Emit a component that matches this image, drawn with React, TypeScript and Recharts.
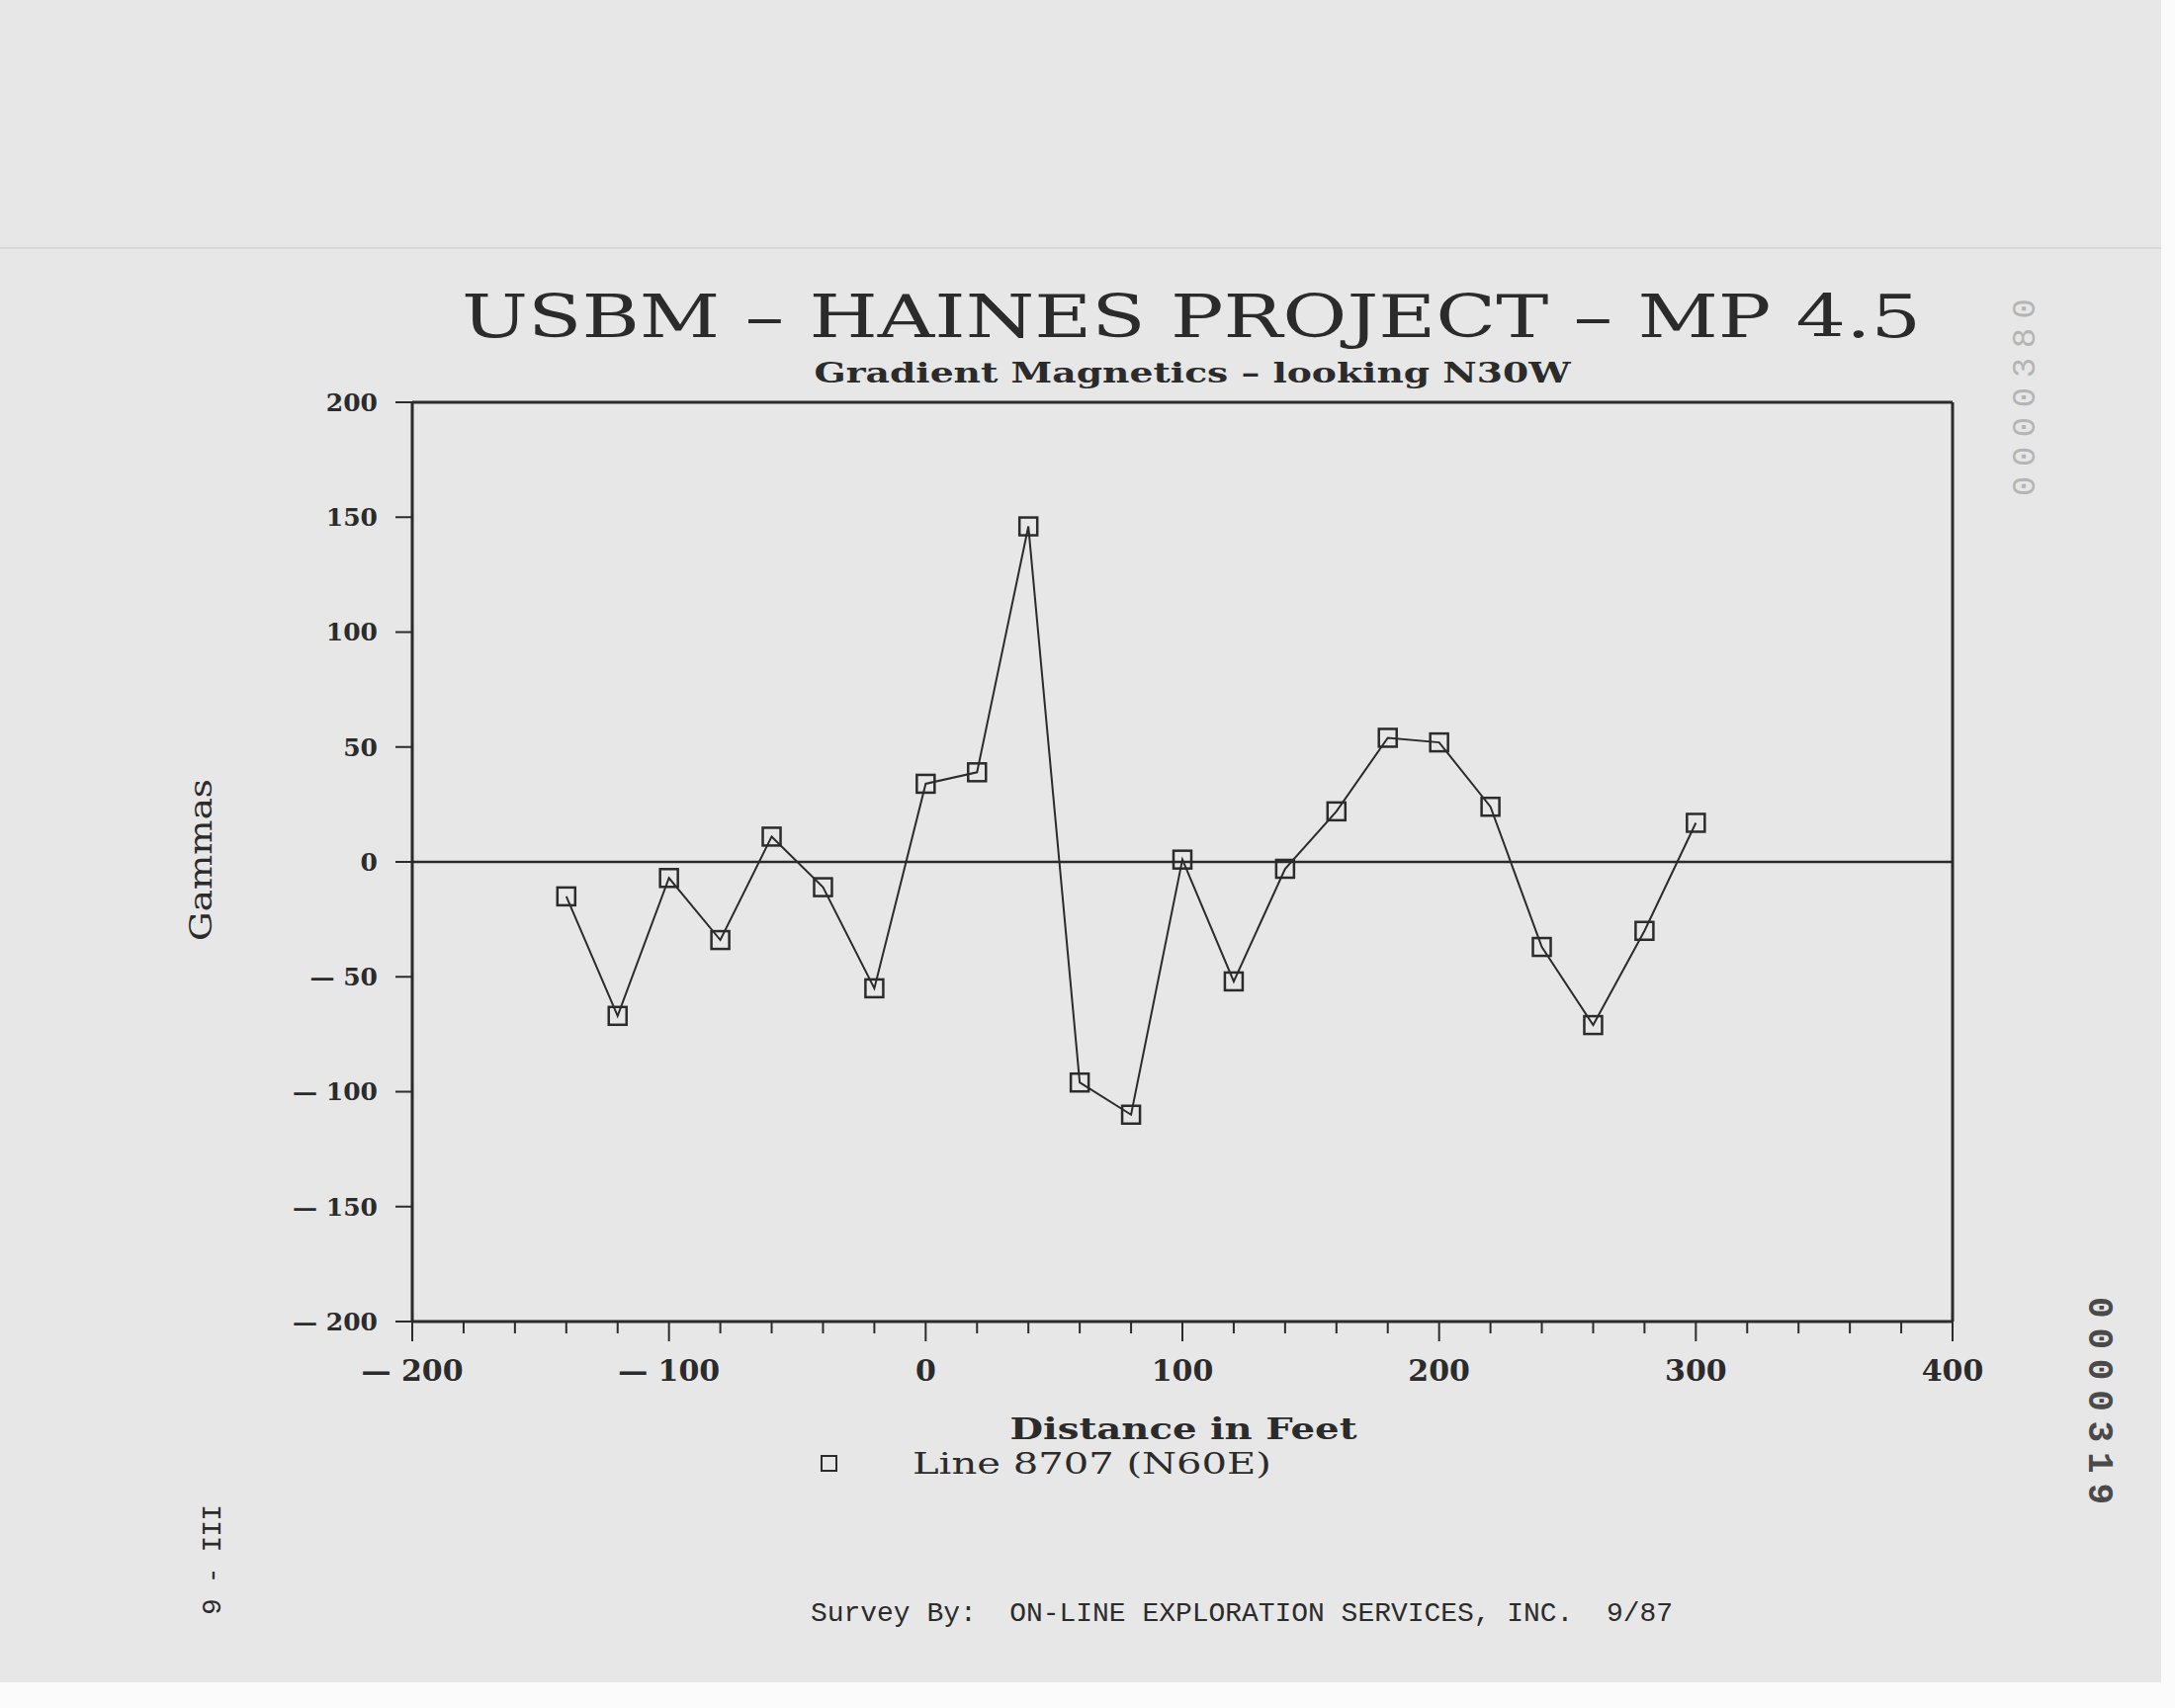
import React from 'react';
import { LineChart, Line, XAxis, YAxis, ReferenceLine, Legend } from 'recharts';

// distance along the line (feet) and gradient reading (gammas)
const distances = [-140, -120, -100, -80, -60, -40, -20, 0, 20, 40, 60, 80, 100, 120, 140, 160, 180, 200, 220, 240, 260, 280, 300];
const gammas = [-15, -67, -7, -34, 11, -11, -55, 34, 39, 146, -96, -110, 1, -52, -3, 22, 54, 52, 24, -37, -71, -30, 17];

const xMajorTicks = [-200, -100, 0, 100, 200, 300, 400];
const xAllTicks = [-200, -180, -160, -140, -120, -100, -80, -60, -40, -20, 0, 20, 40, 60, 80, 100, 120, 140, 160, 180, 200, 220, 240, 260, 280, 300, 320, 340, 360, 380, 400];
const yTicks = [-200, -150, -100, -50, 0, 50, 100, 150, 200];

const seriesName = 'Line 8707 (N60E)';

const data = distances.map((d, i) => ({ distance: d, gamma: gammas[i] }));

const INK = '#2b2b2b';
const PAPER = '#e7e7e7';
const SERIF = '"DejaVu Serif", serif';
const MONO = '"Liberation Mono", "DejaVu Sans Mono", monospace';

// the plotter draws a long dash before negative numbers
const fmt = (v: number) => (v < 0 ? `\u2014 ${Math.abs(v)}` : `${v}`);

const XTick = (props: any) => {
  const { x, y, payload } = props;
  const major = xMajorTicks.includes(payload.value);
  return (
    <g>
      <line x1={x} x2={x} y1={y} y2={y + (major ? 20 : 12)} stroke={INK} strokeWidth={2} />
      {major && (
        <text x={x} y={y + 60} textAnchor="middle" fill={INK} fontFamily={SERIF} fontWeight="bold" fontSize={30}>
          {fmt(payload.value)}
        </text>
      )}
    </g>
  );
};

const SquareDot = (props: any) => {
  const { cx, cy, index } = props;
  return <rect key={`sq-${index}`} x={cx - 9} y={cy - 9} width={18} height={18} fill="none" stroke={INK} strokeWidth={2.5} />;
};

const LegendBox = () => (
  <svg width={500} height={40} style={{ overflow: 'visible' }}>
    <rect x={11} y={10} width={15} height={15} fill="none" stroke={INK} strokeWidth={2} />
    <text x={103} y={28} fill={INK} fontFamily={SERIF} fontSize={30} textLength={363} lengthAdjust="spacingAndGlyphs">
      {seriesName}
    </text>
  </svg>
);

export default function App() {
  return (
    <div style={{ position: 'absolute', left: 0, top: 0, width: 2200, height: 1728, background: '#fbfbfb' }}>
      <div style={{ position: 'absolute', left: 0, top: 0, width: 2186, height: 1702, background: PAPER }} />
      <div style={{ position: 'absolute', left: 0, top: 250, width: 2186, height: 2, background: '#d9d9d9' }} />
      <div style={{ position: 'absolute', left: 0, top: 0 }}>
        <LineChart width={2200} height={1728} data={data} margin={{ top: 407, right: 225, bottom: 331, left: 337 }}>
          <XAxis
            dataKey="distance"
            type="number"
            domain={[-200, 400]}
            ticks={xAllTicks}
            interval={0}
            tick={<XTick />}
            tickLine={false}
            tickSize={0}
            tickMargin={0}
            height={60}
            axisLine={{ stroke: INK, strokeWidth: 3 }}
          />
          <YAxis
            type="number"
            domain={[-200, 200]}
            ticks={yTicks}
            interval={0}
            width={80}
            tickSize={17}
            tickMargin={18}
            tickFormatter={fmt}
            tick={{ fill: INK, fontFamily: SERIF, fontSize: 25, fontWeight: 'bold' }}
            tickLine={{ stroke: INK, strokeWidth: 2 }}
            axisLine={{ stroke: INK, strokeWidth: 3 }}
          />
          <ReferenceLine y={200} stroke={INK} strokeWidth={3} />
          <ReferenceLine x={400} stroke={INK} strokeWidth={3} />
          <ReferenceLine y={0} stroke={INK} strokeWidth={2.5} />
          <Legend
            layout="horizontal"
            verticalAlign="middle"
            align="center"
            content={<LegendBox />}
            wrapperStyle={{ position: 'absolute', left: 820, top: 1463, width: 500, height: 40 }}
          />
          <Line
            dataKey="gamma"
            name={seriesName}
            stroke={INK}
            strokeWidth={2}
            dot={SquareDot}
            activeDot={false}
            isAnimationActive={false}
          />
        </LineChart>
      </div>
      <svg width={2200} height={1728} style={{ position: 'absolute', left: 0, top: 0, pointerEvents: 'none' }}>
        <text x={1205} y={341} textAnchor="middle" fill={INK} fontFamily={SERIF} fontSize={60} textLength={1476} lengthAdjust="spacingAndGlyphs">
          USBM – HAINES PROJECT – MP 4.5
        </text>
        <text x={1206} y={387} textAnchor="middle" fill={INK} fontFamily={SERIF} fontWeight="bold" fontSize={28} textLength={765} lengthAdjust="spacingAndGlyphs">
          Gradient Magnetics – looking N30W
        </text>
        <text x={1197} y={1456} textAnchor="middle" fill={INK} fontFamily={SERIF} fontWeight="bold" fontSize={30} textLength={351} lengthAdjust="spacingAndGlyphs">
          Distance in Feet
        </text>
        <text transform="translate(203,870) rotate(-90)" textAnchor="middle" fill={INK} fontFamily={SERIF} fontSize={31} dy="0.35em" textLength={164} lengthAdjust="spacingAndGlyphs">
          Gammas
        </text>
        <text x={820} y={1640} fill={INK} fontFamily={MONO} fontSize={28} textLength={872} lengthAdjust="spacingAndGlyphs" xmlSpace="preserve">
          {'Survey By:  ON-LINE EXPLORATION SERVICES, INC.  9/87'}
        </text>
        <text transform="translate(213,1578) rotate(-90)" textAnchor="middle" fill={INK} fontFamily={MONO} fontSize={28} dy="0.35em" textLength={112} xmlSpace="preserve">
          {'9 - III'}
        </text>
        <text transform="translate(2126,1417) rotate(90)" textAnchor="middle" fill="#4a4a4a" fontFamily={MONO} fontWeight="bold" fontSize={36} dy="0.35em" textLength={210} lengthAdjust="spacing">
          0000319
        </text>
        <text transform="translate(2046,402) rotate(-90)" textAnchor="middle" fill="#b5b5b5" fontFamily={MONO} fontSize={34} dy="0.35em" textLength={200} lengthAdjust="spacing">
          0000380
        </text>
      </svg>
    </div>
  );
}
